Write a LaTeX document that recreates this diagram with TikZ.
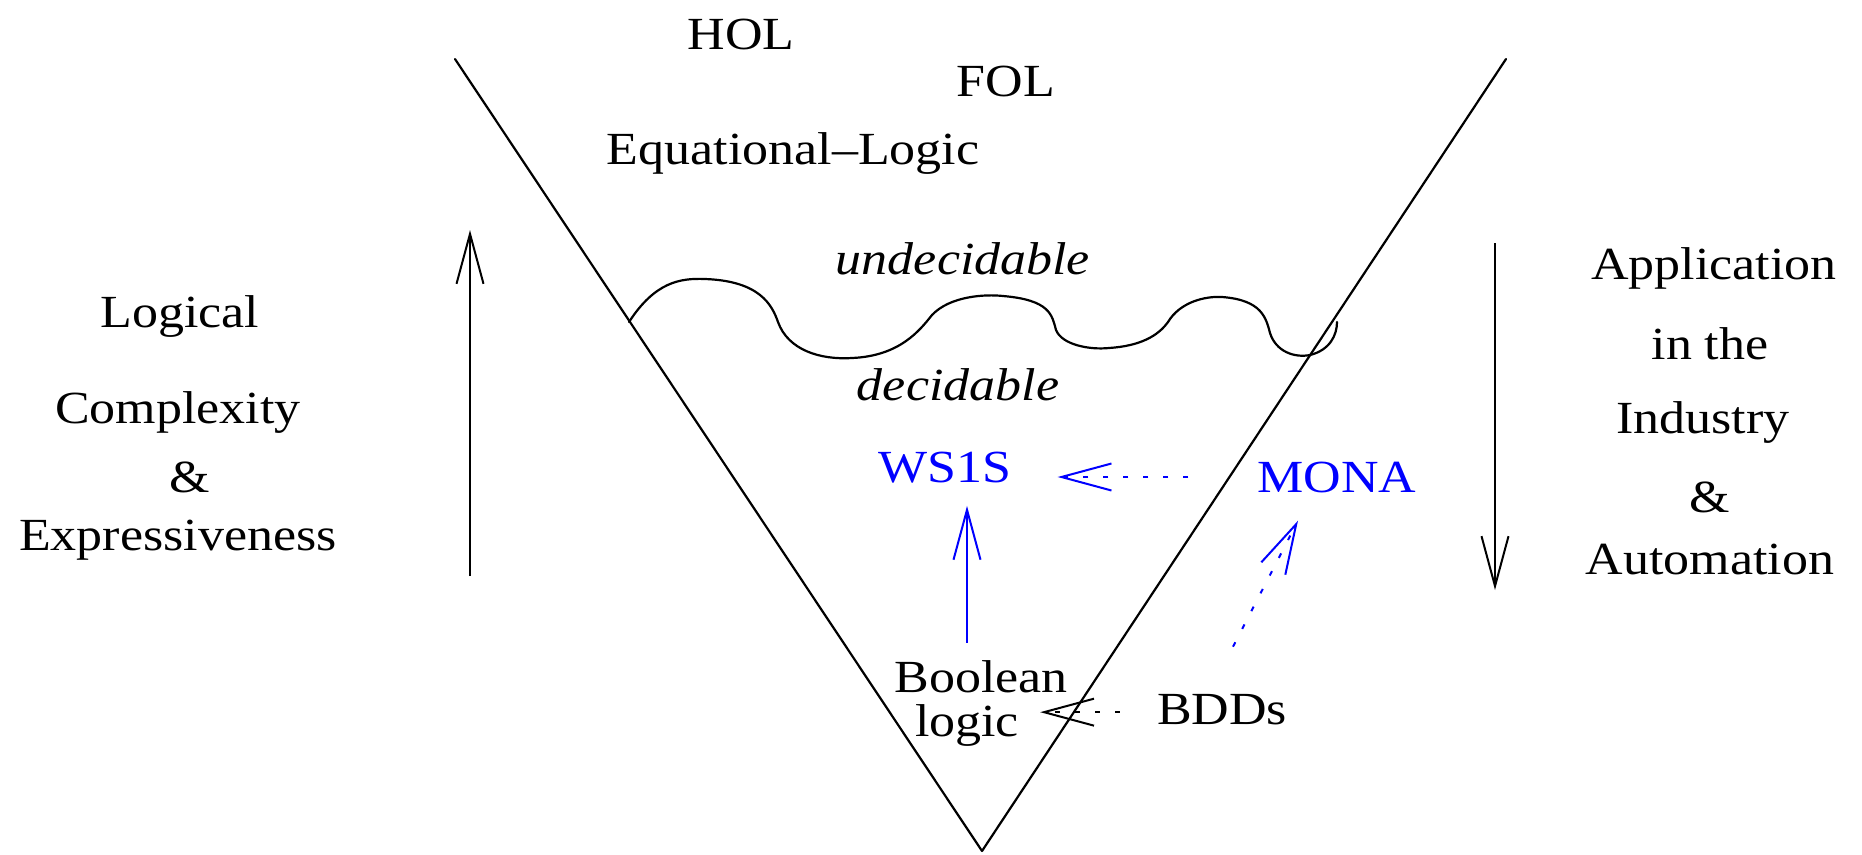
\documentclass[tikz,border=0pt]{standalone}
\usepackage{fontspec}
\setmainfont{Liberation Serif}[FakeStretch=1.13]
\usetikzlibrary{arrows.meta}
\begin{document}
\begin{tikzpicture}[x=1pt,y=-1pt,
  lbl/.style={anchor=base,inner sep=0pt,font=\fontsize{46}{52}\selectfont},
  ital/.style={lbl,font=\fontsize{46}{52}\selectfont\itshape},
  blu/.style={text=blue},
  vline/.style={line width=2.2pt,line join=round,line cap=round},
  arr/.style={line width=2pt,-{Straight Barb[length=50pt,width=27pt,line width=2pt]}},
  dotline/.style={dash pattern=on 5pt off 15pt}
]
\useasboundingbox (0,0) rectangle (1862,854);

% the V
\draw[vline] (455,59) -- (982,851) -- (1506,59);

% wavy border between decidable / undecidable
\draw[vline] (629,322) .. controls (655,282) and (680,278) .. (705,279)
 .. controls (760,281) and (772,305) .. (778,322)
 .. controls (788,350) and (820,360) .. (852,358)
 .. controls (900,356) and (920,330) .. (932,315)
 .. controls (950,296) and (985,294) .. (1003,296)
 .. controls (1050,300) and (1052,315) .. (1056,330)
 .. controls (1062,345) and (1090,350) .. (1109,348)
 .. controls (1140,346) and (1158,336) .. (1168,322)
 .. controls (1180,302) and (1205,296) .. (1222,297)
 .. controls (1262,300) and (1266,318) .. (1270,333)
 .. controls (1276,352) and (1295,358) .. (1310,355)
 .. controls (1330,350) and (1337,335) .. (1337,322);

% texts
\node[lbl] (hol) at (741,49) {HOL};
\node[lbl] (fol) at (1006,96) {FOL};
\node[lbl] (eq) at (793,164) {Equational--Logic};
\node[ital] (und) at (963,274) {undecidable};
\node[ital] (dec) at (958,400) {decidable};
\node[lbl,blu] (ws) at (945,482) {WS1S};
\node[lbl,blu] (mona) at (1337,492) {MONA};
\node[lbl] (bool) at (981,692) {Boolean};
\node[lbl] (logic) at (967,736) {logic};
\node[lbl] (bdds) at (1222,724) {BDDs};

\node[lbl] (l1) at (180,327) {Logical};
\node[lbl] (l2) at (178,423) {Complexity};
\node[lbl] (l3) at (190,492) {\&};
\node[lbl] (l4) at (178,550) {Expressiveness};

\node[lbl] (r1) at (1714,279) {Application};
\node[lbl] (r2) at (1710,359) {in the};
\node[lbl] (r3) at (1703,433) {Industry};
\node[lbl] (r4) at (1710,512) {\&};
\node[lbl] (r5) at (1710,574) {Automation};

% side arrows
\coordinate (lb) at (470,576);
\coordinate (lt) at (470,230);
\draw[arr] (lb) -- (lt);
\coordinate (rt) at (1495,243);
\coordinate (rb) at (1495,590);
\draw[arr] (rt) -- (rb);

% connectors
\draw[arr,blue,shorten <=17pt,shorten >=23pt] ([xshift=-14pt]bool.north) -- ([xshift=22pt]ws.south);
\draw[arr,blue,dotline,shorten <=69pt,shorten >=46pt] (mona.west) -- (mona.west -| ws.east);
\draw[arr,dotline,shorten <=37pt,shorten >=21pt] ([yshift=-3pt]bdds.west) -- ([yshift=-3pt]bdds.west -| logic.east);
\draw[arr,blue,dotline] ([xshift=11pt,yshift=47pt]bdds.north) -- ([xshift=-39pt,yshift=-28pt]mona.south);
\end{tikzpicture}
\end{document}
